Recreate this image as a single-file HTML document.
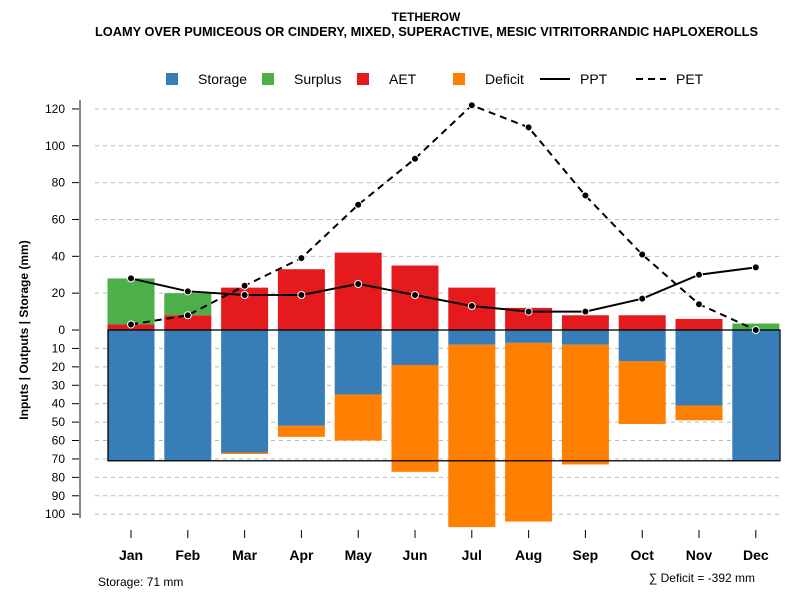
<!DOCTYPE html>
<html><head><meta charset="utf-8"><style>
body{margin:0;background:#fff;font-family:"Liberation Sans",sans-serif;}
svg text{font-family:"Liberation Sans",sans-serif;}
</style></head><body>
<svg id="chart" width="800" height="600" xmlns="http://www.w3.org/2000/svg">
<text x="426" y="21" text-anchor="middle" font-size="12" font-weight="bold">TETHEROW</text>
<text x="95" y="36" font-size="12.5" font-weight="bold" textLength="663" lengthAdjust="spacingAndGlyphs">LOAMY OVER PUMICEOUS OR CINDERY, MIXED, SUPERACTIVE, MESIC VITRITORRANDIC HAPLOXEROLLS</text>
<g>
<rect x="166" y="73" width="12" height="12" fill="#377eb8"/>
<text x="198" y="84" font-size="14">Storage</text>
<rect x="262" y="73" width="12" height="12" fill="#4daf4a"/>
<text x="294" y="84" font-size="14">Surplus</text>
<rect x="357" y="73" width="12" height="12" fill="#e41a1c"/>
<text x="389" y="84" font-size="14">AET</text>
<rect x="453" y="73" width="12" height="12" fill="#ff7f00"/>
<text x="485" y="84" font-size="14">Deficit</text>
<line x1="540" y1="79" x2="570" y2="79" stroke="#000" stroke-width="2"/>
<text x="580" y="84" font-size="14">PPT</text>
<line x1="636" y1="79" x2="666" y2="79" stroke="#000" stroke-width="2" stroke-dasharray="7,5"/>
<text x="676" y="84" font-size="14">PET</text>
</g>
<g id="grid"></g><g id="bars"></g><g id="lines"></g><g id="axes"></g>
<text transform="translate(28,330) rotate(-90)" text-anchor="middle" font-size="12" font-weight="bold">Inputs | Outputs | Storage    (mm)</text>
<text x="98" y="586" font-size="12">Storage: 71 mm</text>
<text x="755" y="582" text-anchor="end" font-size="12">∑ Deficit = -392 mm</text>
</svg>
<script>
const months=["Jan","Feb","Mar","Apr","May","Jun","Jul","Aug","Sep","Oct","Nov","Dec"];
const storage=[71,71,66.5,52,35,19,8,7,8,17,41,71];
const deficit=[0,0,0.8,6,25,58,99,97,65,34,8,0];
const aet=[3,8,23,33,42,35,23,12,8,8,6,0];
const surplus=[25,12,0,0,0,0,0,0,0,0,0,3.5];
const ppt=[28,21,19,19,25,19,13,10,10,17,30,34];
const pet=[3,8,24,39,68,93,122,110,73,41,14,0];
const topTicks=[0,20,40,60,80,100,120];
const botTicks=[10,20,30,40,50,60,70,80,90,100];
const capacity=71;
const NS="http://www.w3.org/2000/svg";
const y=v=>330-v*1.842;
const x=i=>131+i*56.8;
const bw=47;
function mk(p,tag,a){const e=document.createElementNS(NS,tag);for(const k in a)e.setAttribute(k,a[k]);document.getElementById(p).appendChild(e);return e;}
topTicks.concat(botTicks.map(v=>-v)).forEach(v=>{
 if(v!==0){const g=mk('grid','line',{x1:95,x2:780,y1:y(v),y2:y(v),stroke:'#bbb','stroke-dasharray':'4,4'});
 
 }
 const t=mk('axes','line',{x1:72,x2:80,y1:y(v),y2:y(v),stroke:'#000'});
 
 
 const l=mk('axes','text',{x:65,y:y(v)+4,'text-anchor':'end','font-size':12});
 l.textContent=Math.abs(v);
 
 
});
const ax=mk('axes','line',{x1:80,x2:80,y1:100,y2:518,stroke:'#888','stroke-width':2});


months.forEach((m,i)=>{
 const cx=x(i);
 const add=(y0,y1,c,n)=>{if(Math.abs(y1-y0)<0.01)return;const r=mk('bars','rect',{x:cx-bw/2,y:Math.min(y(y0),y(y1)),width:bw,height:Math.abs(y(y0)-y(y1)),fill:c});
  
  };
 add(0,-storage[i],'#377eb8','storage');
 add(-storage[i],-storage[i]-deficit[i],'#ff7f00','deficit');
 add(0,aet[i],'#e41a1c','aet');
 add(aet[i],aet[i]+surplus[i],'#4daf4a','surplus');
 const t=mk('axes','line',{x1:cx,x2:cx,y1:530,y2:538,stroke:'#000'});
 
 
 const l=mk('axes','text',{x:cx,y:560,'text-anchor':'middle','font-size':14,'font-weight':'bold'});
 l.textContent=m;
 
 
});
const z=mk('bars','line',{x1:108,x2:780,y1:y(0),y2:y(0),stroke:'#000'});


const cl=mk('bars','rect',{x:108,y:y(0),width:672,height:y(-capacity)-y(0),fill:'none',stroke:'#000','stroke-width':1.3});


function series(arr,dash,n){
 const p=mk('lines','polyline',{points:arr.map((v,i)=>x(i)+','+y(v)).join(' '),fill:'none',stroke:'#000','stroke-width':2,'stroke-dasharray':dash});
 
 
 arr.forEach((v,i)=>{const c=mk('lines','circle',{cx:x(i),cy:y(v),r:3.5,fill:'#000',stroke:'#fff','stroke-width':1});
  
  });
}
series(ppt,'none','ppt');
series(pet,'7,5','pet');
</script>
</body></html>
